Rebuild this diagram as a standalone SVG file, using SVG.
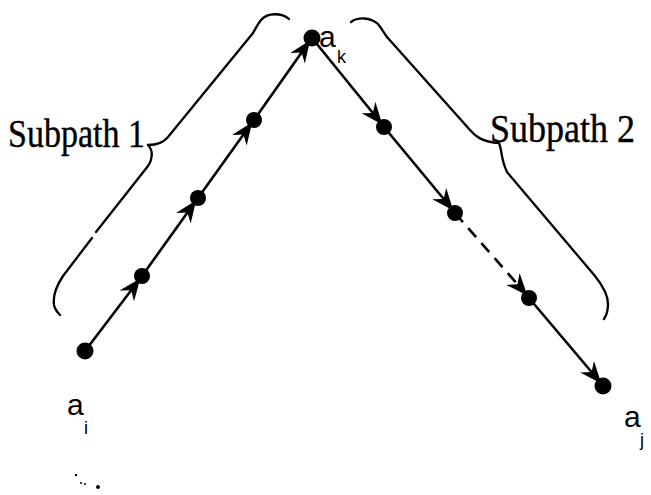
<svg xmlns="http://www.w3.org/2000/svg" width="651" height="495" viewBox="0 0 651 495">
<style>
.edge{stroke:#000;stroke-width:2.6;fill:none;marker-end:url(#arr)}
.dash{stroke-dasharray:12 8}
.node{fill:#000}
.brace{stroke:#000;stroke-width:2.3;fill:none;stroke-linecap:round}
.big{font-family:"Liberation Serif","Times New Roman",serif;font-size:40px;fill:#000;stroke:#000;stroke-width:0.4}
.lbl{font-family:"Liberation Sans",Arial,sans-serif;font-size:30px;fill:#000}
.sub{font-family:"Liberation Sans",Arial,sans-serif;font-size:18px;fill:#000}
</style>
<defs>
<marker id="arr" markerUnits="userSpaceOnUse" markerWidth="22" markerHeight="18" viewBox="0 0 22 18" refX="20" refY="9" orient="auto">
<path d="M0,0 L22,9 L0,18 L7,9 Z" fill="#000"/>
</marker>
</defs>
<g id="connectors">
<path class="edge" d="M85,351 L139,280"/>
<path class="edge" d="M142,276 L195,202"/>
<path class="edge" d="M198,198 L251,124"/>
<path class="edge" d="M254,120 L309,42"/>
<path class="edge" d="M312,38 L381,123"/>
<path class="edge" d="M384,127 L452,209"/>
<path class="edge dash" d="M455,213 L526,294"/>
<path class="edge" d="M529,298 L600,382"/>
</g>
<g id="braces">
<path class="brace" d="M289,19 C282,13 268,12 261,20 C257,25 256,28 253,33 L168,137 C164,142 158,145 148,145"/>
<path class="brace" d="M148,145 C153,150 153,158 148,166 L96,232"/>
<path class="brace" d="M92,238 L63,276 C55,288 53,298 54,305 C55,310 58,313 60,315"/>
<path class="brace" d="M351,22 C358,17 370,17 378,24 C382,29 384,33 387,37 L470,130 C475,136 482,142 499,143"/>
<path class="brace" d="M499,143 C502,150 501,160 507,172 L595,276 C603,286 608,296 608,304 C608,311 606,316 604,319"/>
</g>
<g id="n_ai"><circle class="node" cx="85" cy="351" r="8.5"/><text class="lbl" x="67" y="415">a</text><text class="sub" x="84" y="434">i</text></g>
<g id="n1"><circle class="node" cx="142" cy="276" r="8"/></g>
<g id="n2"><circle class="node" cx="198" cy="198" r="8"/></g>
<g id="n3"><circle class="node" cx="254" cy="120" r="8"/></g>
<g id="n_ak"><circle class="node" cx="312" cy="38" r="8.5"/><text class="lbl" x="319" y="47">a</text><text class="sub" x="337" y="63">k</text></g>
<g id="n5"><circle class="node" cx="384" cy="127" r="8"/></g>
<g id="n6"><circle class="node" cx="455" cy="213" r="8"/></g>
<g id="n7"><circle class="node" cx="529" cy="298" r="8"/></g>
<g id="n_aj"><circle class="node" cx="603" cy="386" r="8.5"/><text class="lbl" x="624" y="427">a</text><text class="sub" x="640" y="446">j</text></g>
<text class="big" x="8" y="147" textLength="137" lengthAdjust="spacingAndGlyphs">Subpath 1</text>
<text class="big" x="490" y="142" textLength="145" lengthAdjust="spacingAndGlyphs">Subpath 2</text>
<g id="specks" fill="#000">
<circle cx="76" cy="475" r="1.2"/><circle cx="81" cy="483" r="1"/><circle cx="85" cy="484" r="1"/><circle cx="98" cy="487" r="2"/>
</g>
</svg>
